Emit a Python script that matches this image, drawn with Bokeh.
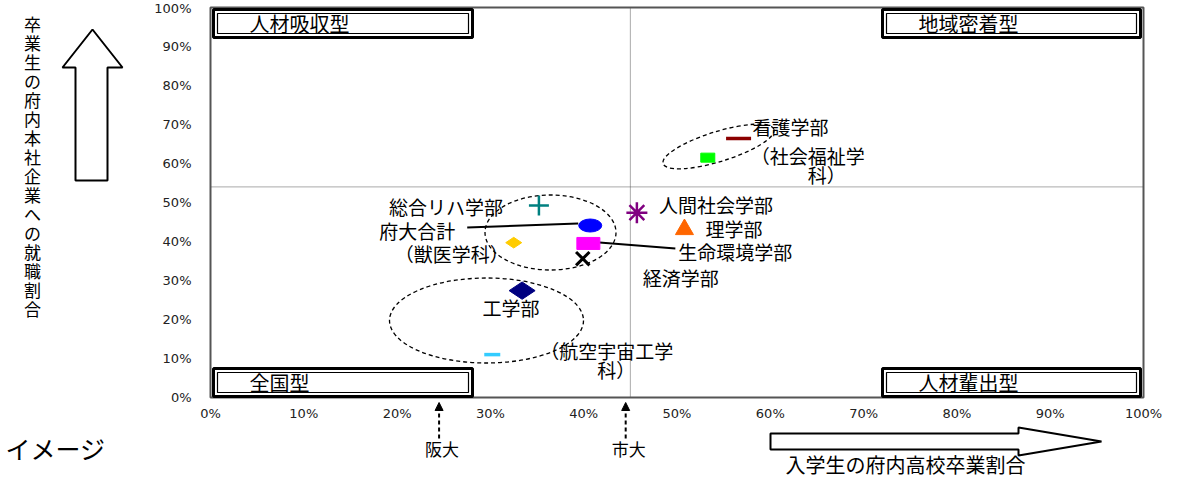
from bokeh.plotting import figure
from bokeh.models import (Range1d, FixedTicker, Label, PolyAnnotation, Arrow, LinearAxis,
                          NormalHead, ColumnDataSource, BoxAnnotation)
from bokeh.core.properties import value
from bokeh.embed import file_html
from bokeh.resources import INLINE
import math

# ---------------- data ----------------
departments = ["府大合計", "総合リハ学部", "獣医学科", "生命環境学部", "経済学部",
               "人間社会学部", "理学部", "看護学部", "社会福祉学科", "工学部", "航空宇宙工学科"]
label_texts = ["府大合計", "総合リハ学部", "（獣医学科）", "生命環境学部", "経済学部",
               "人間社会学部", "理学部", "看護学部", "（社会福祉学\n\u3000\u3000\u3000科）", "工学部",
               "（航空宇宙工学\n\u3000\u3000\u3000科）"]
enroll_local_pct = [40.7, 35.2, 32.5, 40.5, 39.9, 45.7, 50.8, 56.6, 53.3, 33.4, 30.2]   # x
employ_local_pct = [44.1, 49.2, 39.7, 39.5, 35.6, 47.4, 43.1, 66.4, 61.5, 27.4, 11.0]   # y
x_ticks = [0, 10, 20, 30, 40, 50, 60, 70, 80, 90, 100]
x_tick_labels = ["0%", "10%", "20%", "30%", "40%", "50%", "60%", "70%", "80%", "90%", "100%"]
y_ticks = [0, 10, 20, 30, 40, 50, 60, 70, 80, 90, 100]
y_tick_labels = ["0%", "10%", "20%", "30%", "40%", "50%", "60%", "70%", "80%", "90%", "100%"]
x_divider = 45
y_divider = 54
osaka_univ_x = 24.5
city_univ_x = 44.5
ref_univ_names = ["阪大", "市大"]
quadrant_names = ["人材吸収型", "地域密着型", "全国型", "人材輩出型"]
x_title = "入学生の府内高校卒業割合"
y_title = "卒業生の府内本社企業への就職割合"
image_label = "イメージ"

# ---------------- layout helpers (canvas pixels -> data units) ----------------
W, H = 1183, 480
PX0, PX1 = 210, 1143      # canvas x of 0% and 100%
PY0, PY1 = 397, 7         # canvas y of 0% and 100%


def X(cx):
    return (cx - PX0) / (PX1 - PX0) * 100


def Y(cy):
    return (PY0 - cy) / (PY0 - PY1) * 100


def DX(px):
    return px / (PX1 - PX0) * 100


def DY(px):
    return px / (PY0 - PY1) * 100


JPS = "Noto Sans CJK JP"
JP = value(JPS)

p = figure(width=W, height=H, x_range=Range1d(X(0), X(W)), y_range=Range1d(Y(H), Y(0)),
           min_border=0, x_axis_location=None, y_axis_location=None,
           output_backend="svg", toolbar_location=None)
p.grid.visible = False
p.background_fill_color = "white"
p.border_fill_color = "white"
p.outline_line_color = None

xa = LinearAxis(fixed_location=0)
ya = LinearAxis(fixed_location=0)
for ax, ticks, labs, standoff in ((xa, x_ticks, x_tick_labels, 8),
                                  (ya, y_ticks, y_tick_labels, 19)):
    ax.ticker = FixedTicker(ticks=ticks)
    ax.major_label_overrides = {t: l for t, l in zip(ticks, labs)}
    ax.axis_line_color = None
    ax.major_tick_line_color = None
    ax.minor_tick_line_color = None
    ax.major_tick_out = 0
    ax.major_tick_in = 0
    ax.major_label_standoff = standoff
    ax.major_label_text_font = "DejaVu Sans"
    ax.major_label_text_font_size = "13px"
    ax.major_label_text_color = "#222222"
p.add_layout(xa, "below")
p.add_layout(ya, "left")

# plot border
p.add_layout(BoxAnnotation(left=0, right=100, bottom=0, top=100, fill_alpha=0,
                           line_color="#555555", line_alpha=1, line_width=2, level="underlay"))

# quadrant dividers
p.segment(x0=[x_divider, 0], y0=[0, y_divider], x1=[x_divider, 100], y1=[100, y_divider],
          line_color="#555555", line_dash="1 1", line_width=1)

# grouping ellipses (dashed)
ell_x = [X(550), X(486), X(718)]
ell_y = [Y(232), Y(320), Y(146)]
ell_w = [131, 194, 116]
ell_h = [75, 85, 30]
ell_a = [0, 0, 0.3]
p.ellipse(x=ell_x, y=ell_y, width=ell_w, height=ell_h, angle=ell_a,
          width_units="screen", height_units="screen",
          fill_color=None, line_color="black", line_dash="4 3", line_width=1.3)

# leader lines
i_total = departments.index("府大合計")
i_life = departments.index("生命環境学部")
p.segment(x0=[enroll_local_pct[i_total] - DX(123), enroll_local_pct[i_life] + DX(11)],
          y0=[employ_local_pct[i_total] - DY(2), employ_local_pct[i_life] + DY(1)],
          x1=[enroll_local_pct[i_total] - DX(12), enroll_local_pct[i_life] + DX(87)],
          y1=[employ_local_pct[i_total] + DY(2), employ_local_pct[i_life] - DY(5)],
          line_color="black", line_width=2)

# markers
def pt(name):
    i = departments.index(name)
    return [enroll_local_pct[i]], [employ_local_pct[i]]

x, y = pt("府大合計")
p.ellipse(x=x, y=y, width=23, height=13, width_units="screen", height_units="screen",
          fill_color="#0000FF", line_color="#0000FF")
x, y = pt("総合リハ学部")
p.scatter(x=x, y=y, marker="cross", size=20, line_color="#008080", line_width=2.5)
x, y = pt("獣医学科")
p.scatter(x=x, y=y, marker="diamond", size=16, angle=math.pi / 2,
          fill_color="#FFCC00", line_color="#FFCC00")
x, y = pt("生命環境学部")
p.rect(x=x, y=y, width=23, height=12, width_units="screen", height_units="screen",
       fill_color="#FF00FF", line_color="#FF00FF")
x, y = pt("経済学部")
p.scatter(x=x, y=y, marker="x", size=19, line_color="black", line_width=3)
x, y = pt("人間社会学部")
p.scatter(x=x, y=y, marker="asterisk", size=21, line_color="#800080", line_width=2.5)
x, y = pt("理学部")
p.scatter(x=x, y=y, marker="triangle", size=18, fill_color="#FF6600", line_color="#FF6600")
x, y = pt("看護学部")
p.scatter(x=x, y=y, marker="dash", size=25, line_color="#8B0000", line_width=3.5)
x, y = pt("社会福祉学科")
p.rect(x=x, y=y, width=14, height=9, width_units="screen", height_units="screen",
       fill_color="#00FF00", line_color="#00FF00")
x, y = pt("工学部")
p.scatter(x=x, y=y, marker="diamond", size=26, angle=math.pi / 2,
          fill_color="#000080", line_color="#000080")
x, y = pt("航空宇宙工学科")
p.scatter(x=x, y=y, marker="dash", size=16, line_color="#33CCFF", line_width=3.5)

# data labels (offsets in screen px)
label_dx = [-135, -36, -5, 90, 60, 22, 21, 14, 43, -11, 48]
label_dy = [5, 1, 11, 8, 19, -8, -1, -12, 7, 17, 5]
label_align = ["right", "right", "right", "left", "left", "left", "left", "left",
               "left", "center", "left"]
for al in ("left", "right", "center"):
    idx = [i for i, a in enumerate(label_align) if a == al]
    src = ColumnDataSource(dict(
        x=[enroll_local_pct[i] for i in idx], y=[employ_local_pct[i] for i in idx],
        t=[label_texts[i] for i in idx], dx=[label_dx[i] for i in idx],
        dy=[label_dy[i] for i in idx]))
    p.text(x="x", y="y", text="t", x_offset="dx", y_offset="dy", source=src,
           text_align=al, text_baseline="middle", text_font=JP,
           text_font_size="19px", text_line_height=0.7, text_color="black")

# quadrant boxes
box_l = [X(213), X(882), X(213), X(882)]
box_r = [X(472), X(1140), X(472), X(1140)]
box_t = [Y(9), Y(9), Y(368), Y(368)]
box_b = [Y(37), Y(37), Y(396), Y(396)]
for name, l, r, t, b in zip(quadrant_names, box_l, box_r, box_t, box_b):
    p.add_layout(BoxAnnotation(left=l, right=r, top=t, bottom=b, fill_color="white",
                               fill_alpha=1, line_color="black", line_alpha=1, line_width=3))
    p.add_layout(BoxAnnotation(left=l + DX(4), right=r - DX(4), top=t - DY(4),
                               bottom=b + DY(4), fill_color="white", fill_alpha=1,
                               line_color="black", line_alpha=1, line_width=1.2))
    p.add_layout(Label(x=l + DX(36), y=(t + b) / 2, text=name, text_align="left",
                       text_baseline="middle", text_font=JPS, text_font_size="20px",
                       text_color="black"))

# reference universities (dashed arrows below the axis)
for ux, nm in zip([osaka_univ_x, city_univ_x], ref_univ_names):
    p.add_layout(Arrow(x_start=ux, y_start=Y(438), x_end=ux, y_end=Y(402),
                       line_color="black", line_width=2, line_dash="4 3",
                       end=NormalHead(size=8, fill_color="black", line_color="black")))
    p.add_layout(Label(x=ux + DX(3), y=Y(448), text=nm, text_align="center",
                       text_baseline="middle", text_font=JPS, text_font_size="17px",
                       text_color="black"))

# big hollow arrows
up_arrow_x = [X(92), X(122), X(107), X(107), X(75), X(75), X(62)]
up_arrow_y = [Y(29), Y(67), Y(67), Y(180), Y(180), Y(67), Y(67)]
p.add_layout(PolyAnnotation(xs=up_arrow_x, ys=up_arrow_y, fill_color="white",
                            fill_alpha=1, line_color="black", line_alpha=1, line_width=2))
right_arrow_x = [X(770), X(1018), X(1018), X(1101), X(1018), X(1018), X(770)]
right_arrow_y = [Y(433), Y(433), Y(427), Y(441), Y(455), Y(449), Y(449)]
p.add_layout(PolyAnnotation(xs=right_arrow_x, ys=right_arrow_y, fill_color="white",
                            fill_alpha=1, line_color="black", line_alpha=1, line_width=2))

# axis titles and image caption
p.add_layout(Label(x=X(32), y=Y(10), text="\n".join(y_title), text_align="center",
                   text_baseline="top", text_font=JPS, text_font_size="17px",
                   text_line_height=0.76, text_color="black"))
p.add_layout(Label(x=X(905), y=Y(464), text=x_title, text_align="center",
                   text_baseline="middle", text_font=JPS, text_font_size="20px",
                   text_color="black"))
p.add_layout(Label(x=X(5), y=Y(447), text=image_label, text_align="left",
                   text_baseline="middle", text_font=JPS, text_font_size="25px",
                   text_color="black"))

open("out.html", "w").write(file_html(p, INLINE))
